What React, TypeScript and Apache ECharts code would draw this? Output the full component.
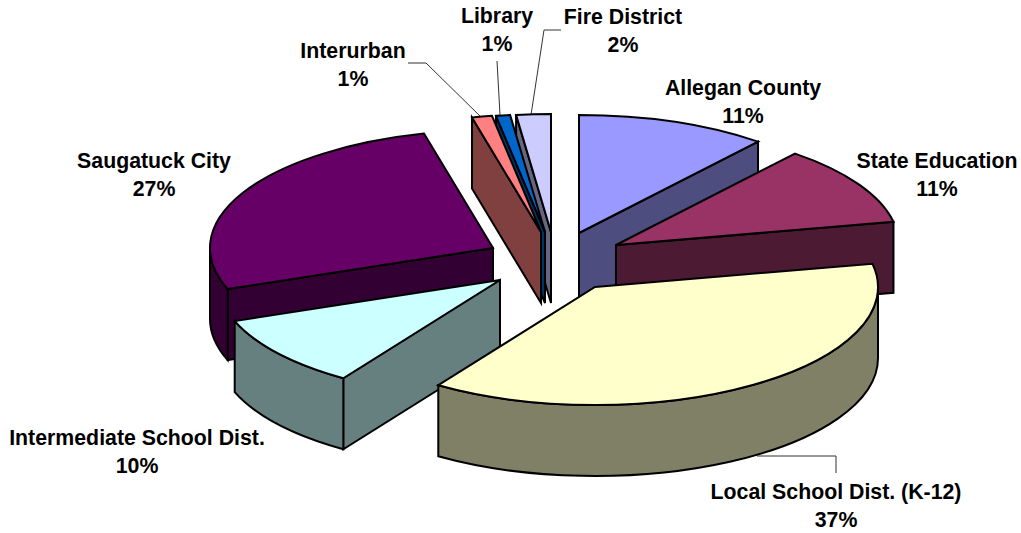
import React, { useEffect, useRef } from "react";
import * as echarts from "echarts";

const categories = ["Allegan County", "State Education", "Local School Dist. (K-12)", "Intermediate School Dist.", "Saugatuck City", "Interurban", "Library", "Fire District"];
const values = [10.9, 10.95, 37.49, 10.0, 26.74, 1.15, 0.8, 1.97];
const percentLabels = ["11%", "11%", "37%", "10%", "27%", "1%", "1%", "2%"];

const topColors = ["#9999FF", "#993366", "#FFFFCC", "#CCFFFF", "#660066", "#FF8080", "#0066CC", "#CCCCFF"];
const wallColors = ["#4D4D80", "#4D1A33", "#808066", "#668080", "#330033", "#804040", "#003366", "#666680"];

// layout of the exploded slices
const apexX = [579, 616, 595, 500, 493, 541, 545, 551];
const apexY = [233, 245, 287, 280, 248, 232, 232, 232];
const drawOrder = [7, 6, 5, 0, 1, 4, 3, 2];
const RX = 283;
const RY = 118;
const DEPTH = 71;

const labelX = [743, 937, 836, 137, 154, 353, 497, 623];
const labelY = [102, 175, 506, 452, 175, 65, 30, 31];
const leaders: number[][][] = [
  [[408, 63], [426, 63], [481, 117]],
  [[497, 61], [500, 115]],
  [[561, 30], [544, 30], [531, 115]],
  [[757, 456], [836, 456], [836, 473]],
];

const total = values.reduce((a, b) => a + b, 0);
const starts: number[] = [];
values.reduce((acc, v, i) => {
  starts[i] = acc;
  return acc + (v / total) * 360;
}, 0);
const ends = values.map((v, i) => starts[i] + (v / total) * 360);

const rad = (d: number) => (d * Math.PI) / 180;
const rim = (i: number, t: number, dy = 0) => [apexX[i] + RX * Math.sin(rad(t)), apexY[i] - RY * Math.cos(rad(t)) + dy];
const fmt = (p: number[]) => `${p[0].toFixed(2)} ${p[1].toFixed(2)}`;

function piece(d: string, fill: string) {
  return {
    type: "path",
    shape: { pathData: d },
    style: { fill, stroke: "#000", lineWidth: 2, lineJoin: "miter" },
  };
}

function renderSlice(params: any) {
  const i = drawOrder[params.dataIndex];
  const s = starts[i];
  const e = ends[i];
  const a = [apexX[i], apexY[i]];
  const children: any[] = [];
  const wall = (t: number) => {
    const r = rim(i, t);
    const r2 = rim(i, t, DEPTH);
    return `M${fmt(a)} L${fmt(r)} L${fmt(r2)} L${fmt([a[0], a[1] + DEPTH])} Z`;
  };
  const sin = (t: number) => Math.sin(rad(t));
  if (sin(s) < 0) children.push(piece(wall(s), wallColors[i]));
  if (sin(e) > 0) children.push(piece(wall(e), wallColors[i]));
  const t0 = Math.max(s, 90);
  const t1 = Math.min(e, 270);
  if (t1 > t0) {
    const large = t1 - t0 > 180 ? 1 : 0;
    const d = `M${fmt(rim(i, t0))} A${RX} ${RY} 0 ${large} 1 ${fmt(rim(i, t1))} L${fmt(rim(i, t1, DEPTH))} A${RX} ${RY} 0 ${large} 0 ${fmt(rim(i, t0, DEPTH))} Z`;
    children.push(piece(d, wallColors[i]));
  }
  const large = e - s > 180 ? 1 : 0;
  children.push(piece(`M${fmt(a)} L${fmt(rim(i, s))} A${RX} ${RY} 0 ${large} 1 ${fmt(rim(i, e))} Z`, topColors[i]));
  return { type: "group", children };
}

export default function App() {
  const ref = useRef<HTMLDivElement>(null);
  useEffect(() => {
    const chart = echarts.init(ref.current!, null, { renderer: "svg" });
    chart.setOption({
      animation: false,
      backgroundColor: "#fff",
      series: [
        {
          type: "custom",
          coordinateSystem: "none",
          silent: true,
          renderItem: renderSlice,
          data: drawOrder.map((i) => ({ name: categories[i], value: values[i] })),
        },
      ],
      graphic: [
        ...leaders.map((pts) => ({
          type: "polyline",
          shape: { points: pts },
          style: { stroke: "#333", lineWidth: 1, fill: "none" },
          z: 1,
        })),
        ...categories.map((c, i) => ({
          type: "text",
          x: labelX[i],
          y: labelY[i],
          style: {
            text: `${c}\n${percentLabels[i]}`,
            align: "center",
            verticalAlign: "middle",
            lineHeight: 27.5,
            fontFamily: "Liberation Sans",
            fontWeight: "bold",
            fontSize: 21.3,
            fill: "#000",
          },
          z: 10,
        })),
      ],
    });
    return () => chart.dispose();
  }, []);
  return <div ref={ref} style={{ position: "absolute", left: 0, top: 0, width: 1021, height: 533 }} />;
}
